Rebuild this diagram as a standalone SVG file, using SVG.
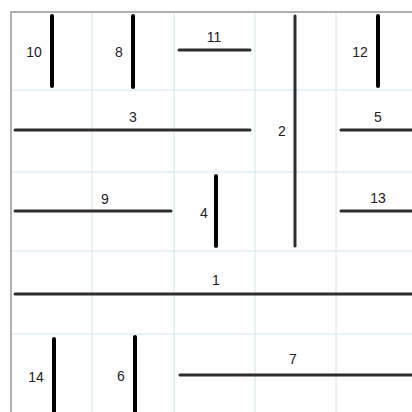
<svg xmlns="http://www.w3.org/2000/svg" width="412" height="412" viewBox="0 0 412 412">
<style>
.grid{stroke:#cfe6ee;stroke-width:1;fill:none}
.border{stroke:#b0b0b0;stroke-width:2;fill:none}
.bar{stroke:#000;stroke-width:4;stroke-linecap:round}
.rod{stroke:#2e2e2e;stroke-width:3;stroke-linecap:round}
.lbl{font-family:"Liberation Sans",Arial,sans-serif;font-size:14px;fill:#222;text-anchor:middle}
</style>
<rect x="0" y="0" width="412" height="412" fill="#fff"/>
<g id="grid">
<line class="grid" x1="92" y1="12" x2="92" y2="412"/>
<line class="grid" x1="174" y1="12" x2="174" y2="412"/>
<line class="grid" x1="255" y1="12" x2="255" y2="412"/>
<line class="grid" x1="336" y1="12" x2="336" y2="412"/>
<line class="grid" x1="11" y1="90" x2="412" y2="90"/>
<line class="grid" x1="11" y1="172" x2="412" y2="172"/>
<line class="grid" x1="11" y1="251" x2="412" y2="251"/>
<line class="grid" x1="11" y1="334" x2="412" y2="334"/>
<path class="border" d="M11 412 V12 H412"/>
</g>
<g id="connectors">
</g>
<g id="n10"><line class="bar" x1="52" y1="16" x2="52" y2="86"/><text class="lbl" x="34" y="57">10</text></g>
<g id="n8"><line class="bar" x1="133" y1="16" x2="133" y2="87"/><text class="lbl" x="119" y="57">8</text></g>
<g id="n11"><line class="rod" x1="179" y1="50" x2="250" y2="50"/><text class="lbl" x="214" y="42">11</text></g>
<g id="n2"><line class="rod" x1="295" y1="16" x2="295" y2="246"/><text class="lbl" x="282" y="136">2</text></g>
<g id="n12"><line class="bar" x1="378" y1="16" x2="378" y2="86"/><text class="lbl" x="360" y="57">12</text></g>
<g id="n3"><line class="rod" x1="15" y1="130" x2="250" y2="130"/><text class="lbl" x="133" y="122">3</text></g>
<g id="n5"><line class="rod" x1="341" y1="130" x2="414" y2="130"/><text class="lbl" x="378" y="122">5</text></g>
<g id="n9"><line class="rod" x1="15" y1="211" x2="171" y2="211"/><text class="lbl" x="105" y="204">9</text></g>
<g id="n4"><line class="bar" x1="216" y1="176" x2="216" y2="246"/><text class="lbl" x="204" y="218">4</text></g>
<g id="n13"><line class="rod" x1="341" y1="211" x2="414" y2="211"/><text class="lbl" x="378" y="203">13</text></g>
<g id="n1"><line class="rod" x1="15" y1="294" x2="414" y2="294"/><text class="lbl" x="216" y="285">1</text></g>
<g id="n14"><line class="bar" x1="54" y1="339" x2="54" y2="414"/><text class="lbl" x="36" y="382">14</text></g>
<g id="n6"><line class="bar" x1="135" y1="337" x2="135" y2="414"/><text class="lbl" x="121" y="381">6</text></g>
<g id="n7"><line class="rod" x1="180" y1="375" x2="414" y2="375"/><text class="lbl" x="293" y="364">7</text></g>
</svg>
